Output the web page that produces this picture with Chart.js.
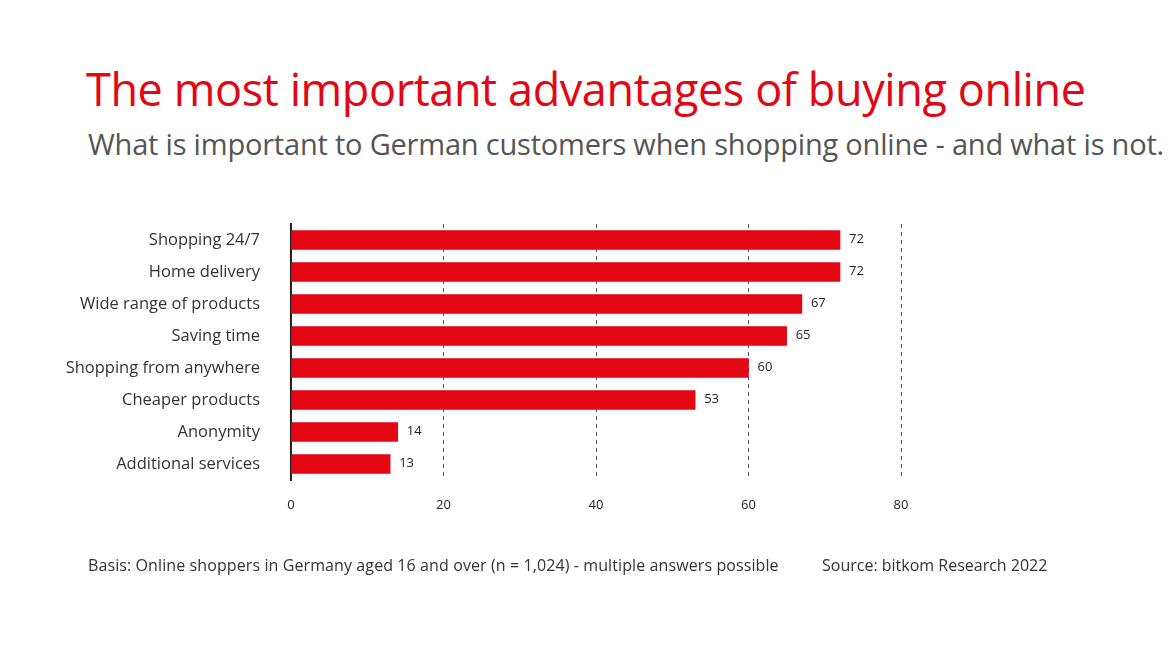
<!DOCTYPE html>
<html>
<head>
<meta charset="utf-8">
<script src="https://cdn.jsdelivr.net/npm/chart.js@4"></script>
<style>
  body { margin: 0; width: 1176px; height: 661px; background: #fff; font-family: "Open Sans", sans-serif; position: relative; overflow: hidden; }
  #titel { position: absolute; left: 86px; top: 58px; font-size: 45px; color: #e30613; white-space: nowrap; letter-spacing: -0.4px; }
  #untertitel { position: absolute; left: 88px; top: 124px; font-size: 29px; color: #555; white-space: nowrap; letter-spacing: -0.2px; }
  #basis { position: absolute; left: 88px; top: 554px; font-size: 16px; color: #333; white-space: nowrap; letter-spacing: 0.1px; }
  #quelle { position: absolute; left: 822px; top: 554px; font-size: 16px; color: #333; white-space: nowrap; }
  #wrap { position: absolute; left: 0; top: 0; width: 1176px; height: 661px; }
</style>
</head>
<body>
<div id="titel">The most important advantages of buying online</div>
<div id="untertitel">What is important to German customers when shopping online - and what is not.</div>
<div id="wrap"><canvas id="grafico"></canvas></div>
<div id="basis">Basis: Online shoppers in Germany aged 16 and over (n = 1,024) - multiple answers possible</div>
<div id="quelle">Source: bitkom Research 2022</div>
<script>
const kategorien = ["Shopping 24/7", "Home delivery", "Wide range of products", "Saving time",
  "Shopping from anywhere", "Cheaper products", "Anonymity", "Additional services"];
const werte = [72, 72, 67, 65, 60, 53, 14, 13];
const ticks = [0, 20, 40, 60, 80];

const rotulos = {
  id: "rotulos",
  afterDatasetsDraw(chart) {
    const ctx = chart.ctx;
    ctx.save();
    ctx.font = "13px 'Open Sans', sans-serif";
    ctx.fillStyle = "#222";
    ctx.textBaseline = "middle";
    chart.getDatasetMeta(0).data.forEach((bar, i) => {
      ctx.fillText(werte[i], bar.x + 9, bar.y - 1);
    });
    ctx.restore();
  }
};

new Chart(document.getElementById("grafico"), {
  type: "bar",
  data: {
    labels: kategorien,
    datasets: [{ data: werte, backgroundColor: "#e30613", barThickness: 19 }]
  },
  options: {
    indexAxis: "y",
    responsive: true,
    maintainAspectRatio: false,
    animation: false,
    layout: { padding: { left: 0, right: 275, top: 224, bottom: 141 } },
    plugins: { legend: { display: false }, tooltip: { enabled: false } },
    scales: {
      x: {
        min: 0, max: 80,
        afterBuildTicks: s => { s.ticks = ticks.map(v => ({ value: v })); },
        afterFit: s => { s.height = 40; },
        grid: {
          drawTicks: false,
          color: c => c.tick && c.tick.value === 0 ? "rgba(0,0,0,0)" : "#555",
          lineWidth: 1
        },
        border: { display: false, dash: [4, 4] },
        ticks: { color: "#222", font: { size: 13, family: "Open Sans" }, padding: 17 }
      },
      y: {
        afterFit: s => { s.width = 291; },
        grid: { display: false },
        border: { color: "#222", width: 2 },
        ticks: { color: "#333", font: { size: 16.5, family: "Open Sans" }, padding: 23 }
      }
    }
  },
  plugins: [rotulos]
});
</script>
</body>
</html>
